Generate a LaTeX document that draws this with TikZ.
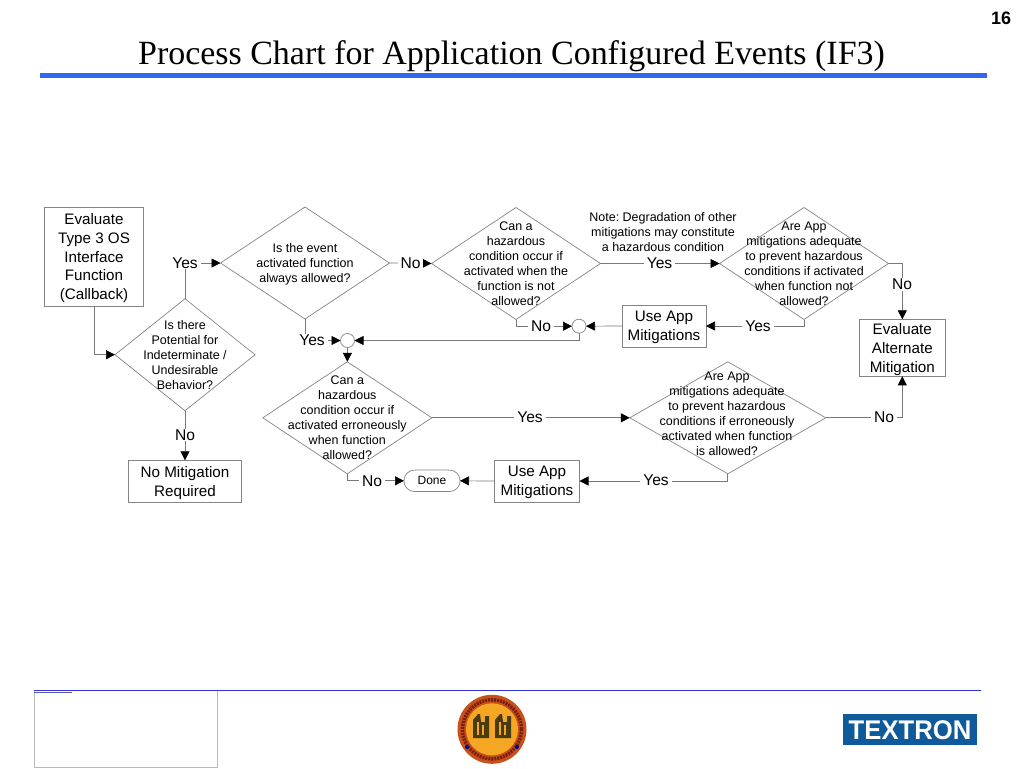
\documentclass[tikz,border=0pt]{standalone}
\usepackage{fontspec}
\setmainfont{Liberation Sans}
\newfontfamily\serifx{Liberation Serif}
\frenchspacing
\usetikzlibrary{arrows.meta,shapes.geometric,calc}
\definecolor{conn}{HTML}{787878}
\definecolor{shp}{HTML}{858585}
\definecolor{titleblue}{HTML}{3366EE}
\definecolor{footblue}{HTML}{3333DD}
\definecolor{tex}{HTML}{0F5A9A}
\definecolor{logoring}{HTML}{C8501A}
\definecolor{logoink}{HTML}{7A1E10}
\definecolor{logoin}{HTML}{F5A623}
\definecolor{logogate}{HTML}{4A3A10}
\tikzset{
  bx/.style={draw=shp,line width=.7pt,fill=white,inner sep=0pt,outer sep=0pt},
  btxt/.style={inner sep=0pt,outer sep=0pt,align=center,font=\fontsize{15.2}{18.7}\selectfont,yshift=-1.6pt},
  dia/.style={draw=shp,line width=.7pt,diamond,inner sep=0pt,outer sep=0pt,minimum width=169pt,minimum height=112pt},
  dtxt/.style={inner sep=0pt,align=center,font=\fontsize{12.5}{15}\selectfont},
  lab/.style={fill=white,inner xsep=3pt,inner ysep=1pt,font=\fontsize{15.6}{16}\selectfont},
  junction/.style={draw=shp,line width=.7pt,circle,minimum size=14pt,inner sep=0pt,outer sep=0pt,fill=white},
  conx/.style={draw=conn,line width=.7pt,-{Triangle[length=9pt,width=9pt,color=black]}},
}
\begin{document}
\begin{tikzpicture}[x=1pt,y=-1pt]
\useasboundingbox (0,0) rectangle (1024,768);
\fill[white] (0,0) rectangle (1024,768);
% header
\node[inner sep=0pt,font=\bfseries\fontsize{18}{20}\selectfont] (pagenum) at (1001,18) {16};
\node[inner sep=0pt,font=\serifx\fontsize{33.95}{36}\selectfont] (title) at (511.5,56.3) {Process Chart for Application Configured Events (IF3)};
\fill[titleblue] (40,72.5) rectangle (987,78);
% shapes
\node[bx,minimum width=99pt,minimum height=99pt] (eval) at (94,256.5) {};
\node[btxt] (evalt) at (eval) {Evaluate\\Type 3 OS\\Interface\\Function\\(Callback)};
\node[dia,minimum width=140pt] (d1) at (185,354.7) {};
\node[dia] (d2) at (305,263) {};
\node[junction] (j1) at (347.5,340.5) {};
\node[dia] (d3) at (347.3,417.8) {};
\node[bx,minimum width=113pt,minimum height=42pt] (nomit) at (185,481.3) {};
\node[btxt] (nomitt) at (nomit) {No Mitigation\\Required};
\node[bx,rounded corners=10.5pt,minimum width=56pt,minimum height=21.5pt,font=\fontsize{12}{15}\selectfont] (done) at (432,480.8) {Done};
\node[dia] (d4) at (516,263.5) {};
\node[dia] (d5) at (804,263.5) {};
\node[bx,minimum width=84pt,minimum height=42pt] (use1) at (664,326) {};
\node[btxt] (use1t) at (use1) {Use App\\Mitigations};
\node[junction] (j2) at (579,326.2) {};
\node[bx,minimum width=85.5pt,minimum height=57pt] (alt) at (902.3,347.8) {};
\node[btxt] (altt) at (alt) {Evaluate\\Alternate\\Mitigation};
\node[dia,minimum width=196pt] (d6) at (727.8,417.8) {};
\node[bx,minimum width=85pt,minimum height=42pt] (use2) at (537,481) {};
\node[btxt] (use2t) at (use2) {Use App\\Mitigations};
% connectors
\draw[conx] (eval.south) |- (d1.west);
\draw[conx] (d1.north) |- (d2.west);
\draw[conx] (d1.south) -- (nomit.north);
\draw[conx] (d2.east) -- (d4.west);
\draw[conx] (d2.south) |- (j1.west);
\draw[conx] (j1.south) -- (d3.north);
\draw[conx] (d3.east) -- (d6.west);
\draw[conx] (d3.south) |- (done.west);
\draw[conx] (d4.east) -- (d5.west);
\draw[conx] (d4.south) |- (j2.west);
\draw[conx] (d5.east) -| (alt.north);
\draw[conx] (d5.south) |- (use1.east);
\draw[conx] (use1.west) -- (j2.east);
\draw[conx] (j2.south) |- (j1.east);
\draw[conx] (d6.east) -| (alt.south);
\draw[conx] (d6.south) |- (use2.east);
\draw[conx] (use2.west) -- (done.east);
% connector labels
\node[lab] (l1) at (185,263) {Yes};
\node[lab] (l2) at (185,435) {No};
\node[lab] (l3) at (410.5,263) {No};
\node[lab] (l4) at (312,340.5) {Yes};
\node[lab] (l5) at (530,417.5) {Yes};
\node[lab] (l6) at (372,481) {No};
\node[lab] (l7) at (659.5,263) {Yes};
\node[lab] (l8) at (541,326) {No};
\node[lab] (l9) at (902,284.5) {No};
\node[lab] (l10) at (758,326) {Yes};
\node[lab] (l11) at (884,417.5) {No};
\node[lab] (l12) at (656,480.5) {Yes};
% diamond texts
\node[dtxt] (t1) at (185,354.7) {Is there\\Potential for\\Indeterminate /\\Undesirable\\Behavior?};
\node[dtxt] (t2) at (305,263.8) {Is the event\\activated function\\always allowed?};
\node[dtxt] (t3) at (347.3,417.8) {Can a\\hazardous\\condition occur if\\activated erroneously\\when function\\allowed?};
\node[dtxt] (t4) at (516,263.5) {Can a\\hazardous\\condition occur if\\activated when the\\function is not\\allowed?};
\node[dtxt] (t5) at (804,263.5) {Are App\\mitigations adequate\\to prevent hazardous\\conditions if activated\\when function not\\allowed?};
\node[dtxt] (t6) at (727,413.7) {Are App\\mitigations adequate\\to prevent hazardous\\conditions if erroneously\\activated when function\\is allowed?};
\node[dtxt] (note) at (663,232) {Note: Degradation of other\\mitigations may constitute\\a hazardous condition};
% footer
\draw[gray!55,line width=.8pt] (34,690.7) rectangle (217.5,767.3);
\draw[footblue,line width=1.5pt] (34,690.7) -- (981,690.7);
\draw[gray!70!blue,line width=.9pt] (34,692.6) -- (72,692.6);
% logo
\fill[logoring] (492,729.3) circle (34.5);
\draw[logoink,line width=3.5pt,dash pattern=on 2pt off 1pt] (492,729.3) circle (29.5);
\fill[logoin] (492,729.3) circle (26);
\fill[blue!55!black] (467,747) circle (2);
\fill[blue!55!black] (517,747) circle (2);
\foreach \gx in {473,495}{
  \fill[logogate] (\gx,738) -- (\gx,720) -- (\gx+5,714) -- (\gx+7,714) -- (\gx+8,722) -- (\gx+12,722) -- (\gx+12,716) -- (\gx+16,716) -- (\gx+16,738) -- cycle;
  \fill[logoin] (\gx+4,722) rectangle (\gx+6,735);
  \fill[logoin] (\gx+9,725) rectangle (\gx+11,735);
}
% textron
\fill[tex] (843,714) rectangle (977,745);
\node[inner sep=0pt,text=white,font=\bfseries\fontsize{27}{27}\selectfont,xscale=.95] (textron) at (910,729.8) {TEXTRON};
\end{tikzpicture}
\end{document}
